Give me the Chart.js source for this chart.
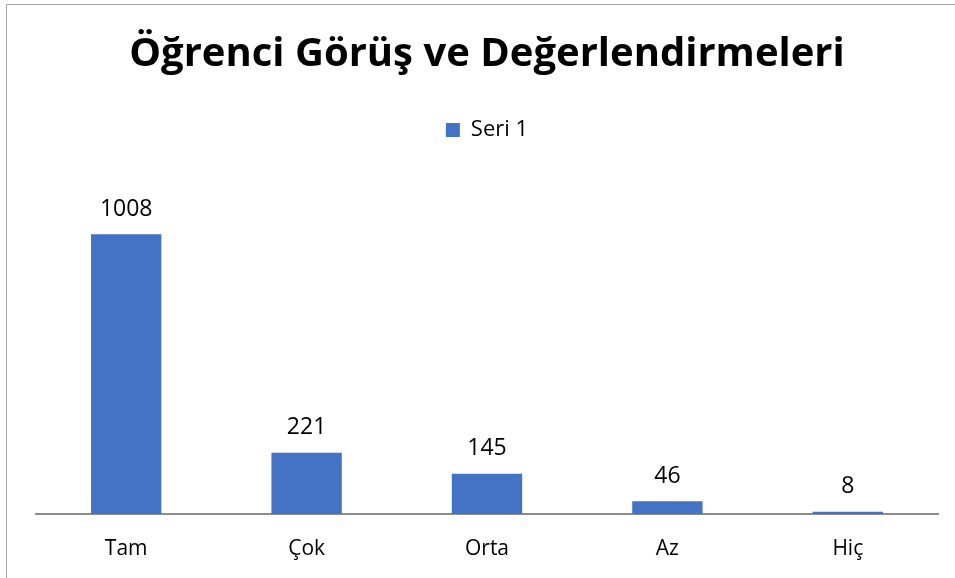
<!DOCTYPE html>
<html>
<head>
<meta charset="utf-8">
<script src="https://cdn.jsdelivr.net/npm/chart.js@4/dist/chart.umd.min.js"></script>
<style>
html,body{margin:0;padding:0;background:#fff;}
#wrap{width:955px;height:578px;position:relative;}
</style>
</head>
<body>
<div id="wrap"><canvas id="c" width="955" height="578"></canvas></div>
<script>
const titleText = 'Öğrenci Görüş ve Değerlendirmeleri';
const seriesName = 'Seri 1';
const categories = ['Tam', 'Çok', 'Orta', 'Az', 'Hiç'];
const values = [1008, 221, 145, 46, 8];
const yMin = 0;
const yMax = 1200;

const FONT = "'Open Sans', sans-serif";

const frame = {
  id: 'frame',
  beforeDraw(chart) {
    const ctx = chart.ctx;
    ctx.save();
    ctx.fillStyle = '#fff';
    ctx.fillRect(0, 0, chart.width, chart.height);
    ctx.strokeStyle = '#a6a6a6';
    ctx.lineWidth = 1;
    ctx.beginPath();
    ctx.moveTo(6.5, chart.height);
    ctx.lineTo(6.5, 4.5);
    ctx.lineTo(chart.width, 4.5);
    ctx.stroke();
    ctx.restore();
  }
};

// empty layout box that keeps a gap between the legend and the plot area
const spacer = {
  id: 'spacer',
  beforeInit(chart) {
    const box = {
      position: 'top', weight: 500, fullSize: true,
      options: {},
      top: 0, left: 0, right: 0, bottom: 0, width: 0, height: 0,
      isHorizontal() { return true; },
      update(maxWidth) { this.width = maxWidth; this.height = 30; },
      draw() {}
    };
    Chart.layouts.addBox(chart, box);
  }
};

const labelsPlugin = {
  id: 'valueLabels',
  afterDatasetsDraw(chart) {
    const ctx = chart.ctx;
    const meta = chart.getDatasetMeta(0);
    ctx.save();
    ctx.font = '23px ' + FONT;
    ctx.fillStyle = '#000';
    ctx.textAlign = 'center';
    ctx.textBaseline = 'middle';
    meta.data.forEach((bar, i) => {
      ctx.fillText(String(chart.data.datasets[0].data[i]), bar.x, bar.y - 25);
    });
    ctx.restore();
  }
};

new Chart(document.getElementById('c'), {
  type: 'bar',
  data: {
    labels: categories,
    datasets: [{
      label: seriesName,
      data: values,
      backgroundColor: '#4472C4',
      borderWidth: 0,
      barPercentage: 0.39,
      categoryPercentage: 1.0
    }]
  },
  options: {
    responsive: false,
    animation: false,
    devicePixelRatio: 1,
    layout: { padding: { left: 36, right: 17, top: 0, bottom: 0 } },
    plugins: {
      title: {
        display: true,
        text: titleText,
        color: '#000',
        font: { family: FONT, size: 40, weight: 'bold', lineHeight: 1.2 },
        padding: { top: 31, bottom: 0 }
      },
      legend: {
        display: true,
        labels: {
          color: '#000',
          font: { family: FONT, size: 22 },
          boxWidth: 14,
          boxHeight: 14,
          padding: 40
        }
      },
      tooltip: { enabled: false }
    },
    scales: {
      x: {
        grid: { display: false, drawTicks: false },
        border: { display: true, color: '#8c8c8c', width: 2 },
        ticks: { color: '#000', font: { family: FONT, size: 21 }, padding: 22 },
        afterFit(scale) { scale.height = 64; }
      },
      y: {
        display: false,
        min: yMin,
        max: yMax
      }
    }
  },
  plugins: [frame, spacer, labelsPlugin]
});
</script>
</body>
</html>
